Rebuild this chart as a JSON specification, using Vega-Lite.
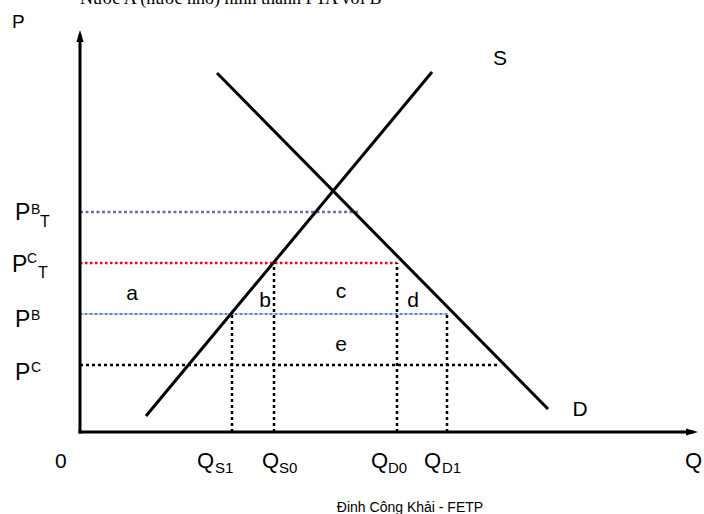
{
  "$schema": "https://vega.github.io/schema/vega-lite/v6.json",
  "width": 620,
  "height": 402,
  "autosize": {"type": "none"},
  "padding": {"left": 80, "top": 30, "right": 4, "bottom": 82},
  "background": "white",
  "config": {"view": {"stroke": null}},
  "encoding": {
    "x": {"field": "x", "type": "quantitative", "scale": {"domain": [0, 620], "nice": false, "zero": false}, "axis": null},
    "y": {"field": "y", "type": "quantitative", "scale": {"domain": [0, 402], "nice": false, "zero": false}, "axis": null}
  },
  "layer": [
    {
      "data": {"values": [{"name": "PBT", "x": 0, "x2": 280, "y": 220}]},
      "mark": {"type": "rule", "color": "#8064A2", "strokeWidth": 2.5, "strokeDash": [3, 2.5]},
      "encoding": {"x2": {"field": "x2"}}
    },
    {
      "data": {"values": [{"name": "PCT", "x": 0, "x2": 317, "y": 169}]},
      "mark": {"type": "rule", "color": "#FF0000", "strokeWidth": 2.5, "strokeDash": [2.5, 2.5]},
      "encoding": {"x2": {"field": "x2"}}
    },
    {
      "data": {"values": [{"name": "PB", "x": 0, "x2": 368, "y": 118}]},
      "mark": {"type": "rule", "color": "#4F81BD", "strokeWidth": 0.8},
      "encoding": {"x2": {"field": "x2"}}
    },
    {
      "data": {"values": [{"name": "PB", "x": 0, "x2": 368, "y": 118}]},
      "mark": {"type": "rule", "color": "#4F81BD", "strokeWidth": 2.2, "strokeDash": [2, 3]},
      "encoding": {"x2": {"field": "x2"}}
    },
    {
      "data": {"values": [{"name": "PC", "x": 0, "x2": 418, "y": 67}]},
      "mark": {"type": "rule", "color": "#000000", "strokeWidth": 2.5, "strokeDash": [3, 3]},
      "encoding": {"x2": {"field": "x2"}}
    },
    {
      "data": {"values": [
        {"name": "QS1", "x": 152, "y": 0, "y2": 118},
        {"name": "QS0", "x": 194, "y": 0, "y2": 169},
        {"name": "QD0", "x": 317, "y": 0, "y2": 169},
        {"name": "QD1", "x": 367, "y": 0, "y2": 118}
      ]},
      "mark": {"type": "rule", "color": "#000000", "strokeWidth": 2.5, "strokeDash": [3, 3]},
      "encoding": {"y2": {"field": "y2"}}
    },
    {
      "data": {"values": [
        {"curve": "S", "x": 66, "y": 16},
        {"curve": "S", "x": 352, "y": 360},
        {"curve": "D", "x": 137, "y": 359},
        {"curve": "D", "x": 468, "y": 23}
      ]},
      "mark": {"type": "line", "color": "#000000", "strokeWidth": 3},
      "encoding": {"detail": {"field": "curve", "type": "nominal"}}
    },
    {
      "data": {"values": [
        {"x": 0, "y": 0, "x2": 0, "y2": 396},
        {"x": 0, "y": 0, "x2": 612, "y2": 0}
      ]},
      "mark": {"type": "rule", "color": "#000000", "strokeWidth": 3, "strokeCap": "square"},
      "encoding": {"x2": {"field": "x2"}, "y2": {"field": "y2"}}
    },
    {
      "data": {"values": [
        {"x": 0, "y": 396, "dir": "up"},
        {"x": 612, "y": 0, "dir": "right"}
      ]},
      "mark": {"type": "point", "filled": true, "color": "#000000", "opacity": 1, "size": 144},
      "encoding": {
        "shape": {"field": "dir", "type": "nominal", "scale": {"domain": ["up", "right"], "range": ["M0,-1L0.6,1L-0.6,1Z", "M1,0L-1,0.6L-1,-0.6Z"]}, "legend": null}
      }
    },
    {
      "data": {"values": [
        {"t": "P", "x": -68, "y": 404, "fs": 19},
        {"t": "0", "x": -25, "y": -36, "fs": 21},
        {"t": "Q", "x": 605, "y": -36, "fs": 22},
        {"t": "Q", "x": 117, "y": -36, "fs": 22},
        {"t": "S1", "x": 135, "y": -41, "fs": 15},
        {"t": "Q", "x": 182, "y": -36, "fs": 22},
        {"t": "S0", "x": 199, "y": -41, "fs": 15},
        {"t": "Q", "x": 291, "y": -36, "fs": 22},
        {"t": "D0", "x": 308, "y": -41, "fs": 15},
        {"t": "Q", "x": 344, "y": -36, "fs": 22},
        {"t": "D1", "x": 362, "y": -41, "fs": 15},
        {"t": "P", "x": -65, "y": 212, "fs": 23},
        {"t": "B", "x": -49, "y": 218, "fs": 14},
        {"t": "T", "x": -40, "y": 205, "fs": 16},
        {"t": "P", "x": -68, "y": 160, "fs": 23},
        {"t": "C", "x": -53, "y": 169, "fs": 14},
        {"t": "T", "x": -42, "y": 154, "fs": 16},
        {"t": "P", "x": -65, "y": 105, "fs": 23},
        {"t": "B", "x": -49, "y": 112, "fs": 14},
        {"t": "P", "x": -65, "y": 52, "fs": 23},
        {"t": "C", "x": -49, "y": 60, "fs": 14}
      ]},
      "mark": {"type": "text", "align": "left", "baseline": "alphabetic", "font": "Liberation Sans", "color": "#000000"},
      "encoding": {
        "text": {"field": "t"},
        "size": {"field": "fs", "type": "quantitative", "scale": null}
      }
    },
    {
      "data": {"values": [
        {"t": "a", "x": 52, "y": 132, "fs": 21},
        {"t": "b", "x": 185, "y": 125, "fs": 21},
        {"t": "c", "x": 261, "y": 134, "fs": 21},
        {"t": "d", "x": 333, "y": 125, "fs": 21},
        {"t": "e", "x": 261, "y": 81, "fs": 21},
        {"t": "S", "x": 420, "y": 367, "fs": 21},
        {"t": "D", "x": 500, "y": 16, "fs": 21},
        {"t": "Đinh Công Khải - FETP", "x": 330, "y": -80, "fs": 14}
      ]},
      "mark": {"type": "text", "align": "center", "baseline": "alphabetic", "font": "Liberation Sans", "color": "#000000"},
      "encoding": {
        "text": {"field": "t"},
        "size": {"field": "fs", "type": "quantitative", "scale": null}
      }
    },
    {
      "data": {"values": [{"t": "Nước A (nước nhỏ) hình thành FTA với B", "x": 0, "y": 428}]},
      "mark": {"type": "text", "align": "left", "baseline": "alphabetic", "font": "Liberation Serif", "fontSize": 18, "color": "#000000"},
      "encoding": {"text": {"field": "t"}}
    }
  ]
}
